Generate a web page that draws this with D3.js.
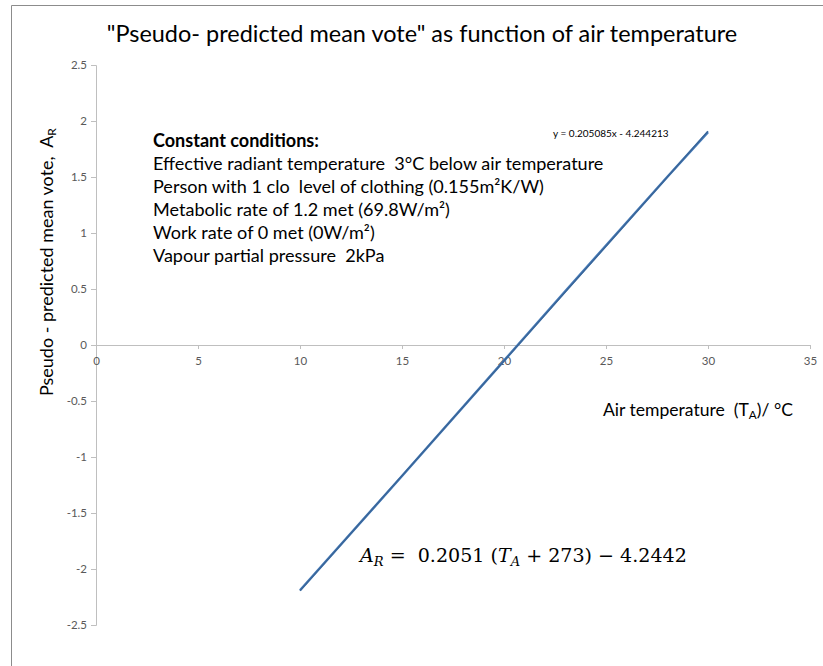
<!DOCTYPE html>
<html><head><meta charset="utf-8">
<script src="https://cdn.jsdelivr.net/npm/d3@7"></script>
<style>body{margin:0;background:#fff}svg{display:block}text{white-space:pre}</style>
</head><body>
<script>
// ---- data ----
const xTicks = [0, 5, 10, 15, 20, 25, 30, 35];
const yTicks = [-2.5, -2, -1.5, -1, -0.5, 0, 0.5, 1, 1.5, 2, 2.5];
const airTemp = [10, 15, 20, 23, 28, 30];
const meanVote = [-2.19, -1.17, -0.14, 0.48, 1.50, 1.90];
const trendCoef = [0.205085, -4.244213];   // slope, intercept
const trendRange = [10, 30];
const conditions = [
  "Effective radiant temperature  3°C below air temperature",
  "Person with 1 clo  level of clothing (0.155m²K/W)",
  "Metabolic rate of 1.2 met (69.8W/m²)",
  "Work rate of 0 met (0W/m²)",
  "Vapour partial pressure  2kPa"
];

const W = 823, H = 666;
const font = "Lato, 'Open Sans', sans-serif";
const svg = d3.select("body").append("svg").attr("width", W).attr("height", H);

// scale a text's font size (and its tspans) so its width matches a target
function fit(sel, target) {
  const w = sel.node().getComputedTextLength();
  const k = target / w;
  const fs = parseFloat(sel.attr("font-size"));
  sel.attr("font-size", fs * k);
  sel.selectAll("tspan").each(function () {
    const t = d3.select(this);
    if (t.attr("font-size")) t.attr("font-size", parseFloat(t.attr("font-size")) * k);
  });
  return k;
}

// frame
svg.append("path").attr("d", "M11.5,666 V5.5 H823").attr("fill", "none").attr("stroke", "#8c8c8c").attr("stroke-width", 1);

const x = d3.scaleLinear().domain([0, 35]).range([96, 810]);
const y = d3.scaleLinear().domain([-2.5, 2.5]).range([625, 65]);
const fmt = d => String(d);

// y axis
const yAx = svg.append("g").attr("transform", `translate(${x(0)},0)`)
  .call(d3.axisLeft(y).tickValues(yTicks).tickSize(5).tickPadding(4).tickFormat(fmt));
yAx.select(".domain").attr("stroke", "#bfbfbf");
yAx.selectAll(".tick line").attr("stroke", "#bfbfbf");
yAx.selectAll(".tick text").attr("fill", "#595959").attr("font-family", font).attr("font-size", 11.5);

// x axis
const xAx = svg.append("g").attr("transform", `translate(0,${y(0)})`)
  .call(d3.axisBottom(x).tickValues(xTicks).tickSize(4).tickPadding(8).tickFormat(fmt));
xAx.select(".domain").attr("stroke", "#bfbfbf");
xAx.selectAll(".tick line").attr("stroke", "#bfbfbf");
xAx.selectAll(".tick text").attr("fill", "#595959").attr("font-family", font).attr("font-size", 11.5);

// data line
const pts = airTemp.map((t, i) => [t, meanVote[i]]);
svg.append("path").datum(pts)
  .attr("d", d3.line().x(d => x(d[0])).y(d => y(d[1])))
  .attr("fill", "none").attr("stroke", "#4a7ebb").attr("stroke-width", 2.5);
// trendline
const tr = trendRange.map(t => [t, trendCoef[0] * t + trendCoef[1]]);
svg.append("path").datum(tr)
  .attr("d", d3.line().x(d => x(d[0])).y(d => y(d[1])))
  .attr("fill", "none").attr("stroke", "#3a6699").attr("stroke-width", 1.5);

// title
const title = svg.append("text").attr("x", 422).attr("y", 42).attr("text-anchor", "middle")
  .attr("font-family", font).attr("font-size", 23.5).attr("fill", "#000")
  .text("\"Pseudo- predicted mean vote\" as function of air temperature");
fit(title, 631);

// y label
const yl = svg.append("text").attr("transform", "translate(53,396) rotate(-90)")
  .attr("text-anchor", "start").attr("font-family", font).attr("font-size", 16.5).attr("fill", "#000");
yl.append("tspan").text("Pseudo - predicted mean vote,  A");
yl.append("tspan").attr("font-size", 11).attr("dy", 3).text("R");
fit(yl, 268);

// x label
const xl = svg.append("text").attr("x", 603).attr("y", 416)
  .attr("font-family", font).attr("font-size", 16.5).attr("fill", "#000");
xl.append("tspan").text("Air temperature  (T");
xl.append("tspan").attr("font-size", 11).attr("dy", 3).text("A");
xl.append("tspan").attr("dy", -3).text(")/ °C");
fit(xl, 190);

// trend equation
svg.append("text").attr("x", 553).attr("y", 137).attr("font-family", font).attr("font-size", 10).attr("fill", "#000")
  .text(`y = ${trendCoef[0]}x - ${Math.abs(trendCoef[1])}`);

// constant conditions
const condFs = 17;
const hdr = svg.append("text").attr("x", 153).attr("y", 147).attr("font-family", font).attr("font-size", condFs)
  .attr("font-weight", "bold").text("Constant conditions:");
const conds = svg.selectAll("text.cond").data(conditions).enter().append("text").attr("class", "cond")
  .attr("x", 153).attr("y", (d, i) => 170 + i * 23).attr("font-family", font).attr("font-size", condFs)
  .attr("fill", "#000").text(d => d);
const k = fit(d3.select(conds.nodes()[0]), 451);
conds.attr("font-size", condFs * k);
hdr.attr("font-size", condFs * k);

// formula
const fm = svg.append("text").attr("x", 360).attr("y", 562)
  .attr("font-family", "'DejaVu Serif', 'Liberation Serif', serif").attr("font-size", 19).attr("fill", "#000");
fm.append("tspan").attr("font-style", "italic").text("A");
fm.append("tspan").attr("font-style", "italic").attr("font-size", 13).attr("dy", 4).text("R");
fm.append("tspan").attr("dy", -4).text(" =  0.2051 (");
fm.append("tspan").attr("font-style", "italic").text("T");
fm.append("tspan").attr("font-style", "italic").attr("font-size", 13).attr("dy", 4).text("A");
fm.append("tspan").attr("dy", -4).text(" + 273) − 4.2442");
fit(fm, 327);
</script>
</body></html>
